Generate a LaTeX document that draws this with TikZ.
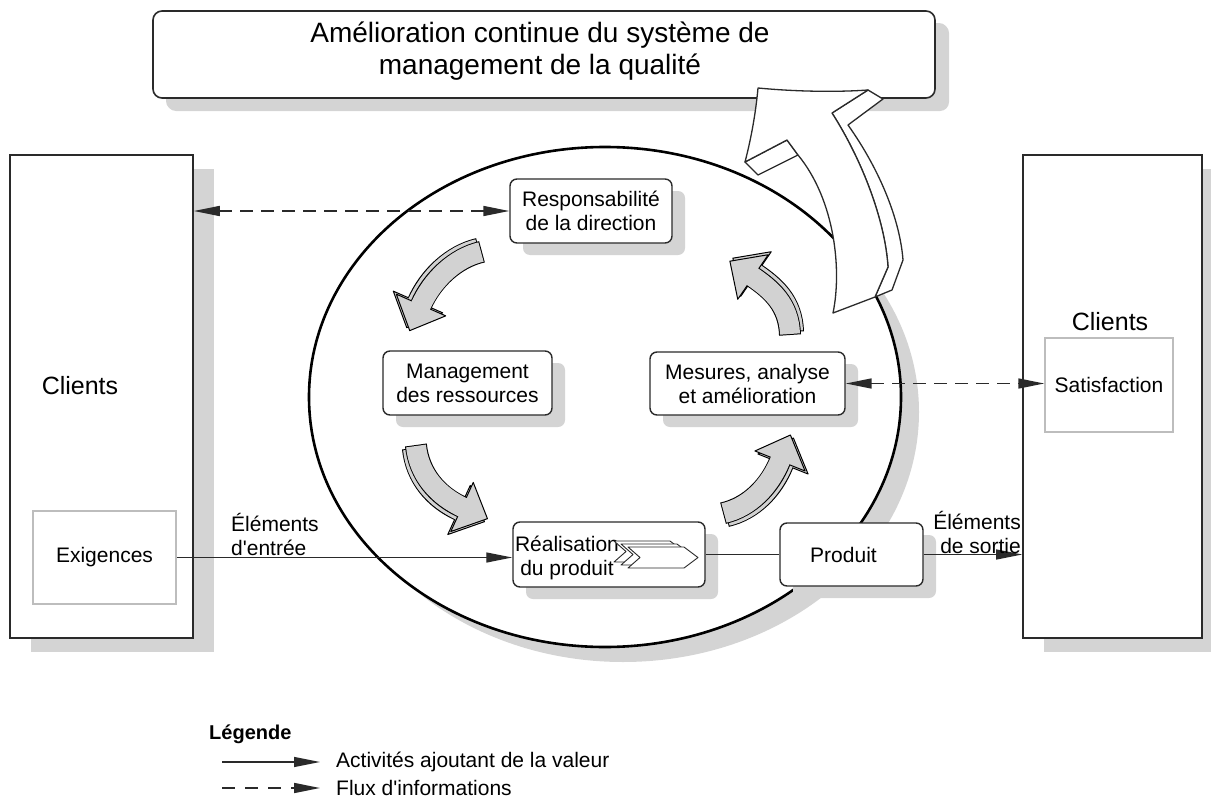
\documentclass[tikz,border=0pt]{standalone}
\usepackage{fontspec}
\setmainfont{Liberation Sans}
\usetikzlibrary{arrows.meta,calc,shadows}
\definecolor{shd}{HTML}{D4D4D4}
\definecolor{agray}{HTML}{D2D2D2}
\definecolor{ink}{HTML}{2A2A2A}
\definecolor{lgray}{HTML}{BDBDBD}
\tikzset{
  txt/.style={font=\fontsize{21}{24}\selectfont, inner sep=0pt, align=center},
  rbox/.style={draw=ink, line width=1.4pt, rounded corners=7pt, fill=white, inner sep=0pt,
    font=\fontsize{21}{24}\selectfont, align=center,
    drop shadow={shadow xshift=13pt, shadow yshift=-12pt, fill=shd, opacity=1}},
  bigbox/.style={draw=ink, line width=1.6pt, fill=white, inner sep=0pt,
    drop shadow={shadow xshift=21pt, shadow yshift=-14pt, fill=shd, opacity=1}},
  lbox/.style={draw=lgray, line width=1.5pt, fill=white, inner sep=0pt, font=\fontsize{21}{24}\selectfont},
  tipv/.tip={Triangle[length=26pt,width=10pt]},
  valarrow/.style={draw=ink, line width=1.3pt, -tipv},
  infoarrow/.style={draw=ink, line width=1.6pt, dash pattern=on 13pt off 8pt, tipv-tipv},
  infoone/.style={draw=ink, line width=1.6pt, dash pattern=on 13pt off 10pt, -tipv},
}
\newcommand\fatarrowcore[4]{%
  \draw[line width=22pt, draw=black, shorten <=-1pt] (#1) .. controls (#2) and (#3) .. (#4);
  \filldraw[fill=agray, draw=black, line width=1pt, line join=round]
    ($(#4)!27pt!90:(#3)$) -- ($(#4)!-28pt!(#3)$) -- ($(#4)!27pt!-90:(#3)$) -- cycle;
  \draw[line width=20pt, draw=agray, shorten >=-2pt] (#1) .. controls (#2) and (#3) .. (#4);
}
\newcommand\fatarrow[5]{%
  \begin{scope}[shift={(#5)}]\fatarrowcore{#1}{#2}{#3}{#4}\end{scope}
  \fatarrowcore{#1}{#2}{#3}{#4}%
}
\newcommand\chevshape[2]{%
  \filldraw[fill=white, draw=ink, line width=0.9pt, line join=round, shift={(#1,#2)}]
    (628,547) -- (684,547) -- (698,557.5) -- (684,568) -- (628,568) -- (640,557.5) -- cycle;
}
\begin{document}
\begin{tikzpicture}[x=1pt,y=-1pt]
\path[use as bounding box] (0,0) rectangle (1211,811);
\clip (0,0) rectangle (1211,811);

% big cycle
\fill[shd] (623,412) ellipse [x radius=296, y radius=250];
\draw[black, line width=2.6pt, fill=white] (605,397) ellipse [x radius=296, y radius=250];

% client boxes
\node[bigbox, minimum width=183pt, minimum height=483pt] (lc) at (101.5,396.5) {};
\node[txt, font=\fontsize{25}{28}\selectfont] (lct) at (80,386) {Clients};
\node[lbox, minimum width=143pt, minimum height=93pt] (exig) at (104.5,557.5) {Exigences};

\node[bigbox, minimum width=179pt, minimum height=483pt] (rc) at (1112.5,396.5) {};
\node[txt, font=\fontsize{25}{28}\selectfont] (rct) at (1110,322) {Clients};
\node[lbox, minimum width=128pt, minimum height=94pt] (satis) at (1109,385) {Satisfaction};

% top box
\node[rbox, rounded corners=9pt, line width=1.6pt, minimum width=782pt, minimum height=87pt,
  drop shadow={shadow xshift=14pt, shadow yshift=-13pt, fill=shd, opacity=1}] (top) at (544,54.5) {};
\node[txt, font=\fontsize{28}{32}\selectfont] (toptext) at (540,51)
  {Amélioration continue du système de\\management de la qualité};

% grey cycle arrows
\fatarrow{481,252}{455,258}{432,280}{421,305}{-3,-3}
\fatarrow{416,446}{419,475}{438,496}{462,507}{-3,3}
\fatarrow{724,513}{750,507}{770,486}{780,461}{3,3}
\fatarrow{790,334}{789,305}{772,290}{753,277}{3,-3}

% big white improvement arrow
\begin{scope}[draw=ink, line width=1.3pt, line join=round, fill=white]
\filldraw (868,90) -- (883,99) -- (848,125) .. controls (880,170) and (900,220) .. (903,260)
  -- (892,290) -- (875,297) -- (888,267) .. controls (885,220) and (862,160) .. (832,113) -- cycle;
\filldraw (745,162) -- (758,175) -- (798,155) -- (787,140) -- cycle;
\filldraw (758,88) .. controls (800,92) and (840,92) .. (868,90) -- (832,113)
  .. controls (862,160) and (885,220) .. (888,267) -- (875,297) -- (833,313)
  .. controls (842,270) and (835,200) .. (798,155) -- (787,140) -- (745,162)
  .. controls (752,135) and (756,110) .. (758,88) -- cycle;
\end{scope}

% process boxes
\node[rbox, minimum width=162pt, minimum height=64pt] (resp) at (591,211) {Responsabilité\\de la direction};
\node[rbox, minimum width=169pt, minimum height=64pt] (mgmt) at (467.5,383) {Management\\des ressources};
\node[rbox, minimum width=195pt, minimum height=63pt] (mes) at (747.5,383.5) {Mesures, analyse\\et amélioration};
\node[rbox, minimum width=192pt, minimum height=65pt] (real) at (609,554.5) {};
\node[txt] (realtext) at (567,558) {Réalisation\\du produit};
\chevshape{-14}{-6}
\chevshape{-7}{-3}
\chevshape{0}{0}
\node[rbox, minimum width=143pt, minimum height=63pt] (prod) at (851.5,554.5) {Produit\hspace{16pt}};

% connectors
\draw[valarrow] (exig.east) -- (exig.east -| real.west);
\draw[draw=ink, line width=1.3pt] (real.east) -- (real.east -| prod.west);
\draw[valarrow] (prod.east) -- (prod.east -| rc.west);
\draw[infoarrow] (resp.west) -- (resp.west -| lc.east);
\draw[infoarrow] (mes.east) -- (mes.east -| satis.west);

\node[txt, anchor=west, align=left] (inlbl) at (231,534) {Éléments\\d\textquotesingle entrée};
\node[txt, anchor=east, align=right] (outlbl) at (1021,532) {Éléments\\de sortie};

% legend
\node[txt, anchor=west, font=\bfseries\fontsize{20}{24}\selectfont] (leg) at (209,734) {Légende};
\coordinate (l1a) at (222,762); \coordinate (l1b) at (320,762);
\coordinate (l2a) at (222,788); \coordinate (l2b) at (320,788);
\draw[valarrow] (l1a) -- (l1b);
\draw[infoone] (l2a) -- (l2b);
\node[txt, anchor=west] (l1t) at (336,762) {Activités ajoutant de la valeur};
\node[txt, anchor=west] (l2t) at (336,788) {Flux d\textquotesingle informations};
\end{tikzpicture}
\end{document}
